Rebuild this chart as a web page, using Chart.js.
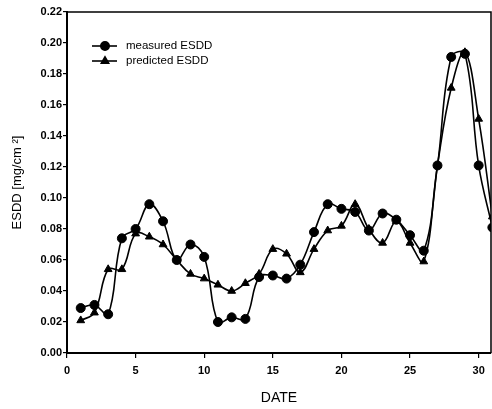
<!DOCTYPE html>
<html>
<head>
<meta charset="utf-8">
<script src="https://cdn.jsdelivr.net/npm/chart.js@4.4.1/dist/chart.umd.min.js"></script>
<style>
    html, body {
        margin: 0;
        padding: 0;
        background: #ffffff;
    }
    #chart-box {
        width: 492px;
        height: 409px;
        position: relative;
    }
</style>
</head>
<body>
<div id="chart-box">
    <canvas id="esdd-chart"></canvas>
</div>
<script>
// Day of the month
const days = [1, 2, 3, 4, 5, 6, 7, 8, 9, 10, 11, 12, 13, 14, 15, 16, 17, 18, 19, 20, 21, 22, 23, 24, 25, 26, 27, 28, 29, 30, 31];

// ESDD values in mg/cm2
const measuredEsdd = [0.029, 0.031, 0.025, 0.074, 0.080, 0.096, 0.085, 0.060, 0.070, 0.062, 0.020, 0.023, 0.022, 0.049, 0.050, 0.048, 0.057, 0.078, 0.096, 0.093, 0.091, 0.079, 0.090, 0.086, 0.076, 0.066, 0.121, 0.191, 0.193, 0.121, 0.081];
const predictedEsdd = [0.021, 0.026, 0.054, 0.054, 0.077, 0.075, 0.070, 0.060, 0.051, 0.048, 0.044, 0.040, 0.045, 0.051, 0.067, 0.064, 0.052, 0.067, 0.079, 0.082, 0.096, 0.080, 0.071, 0.085, 0.071, 0.059, 0.121, 0.171, 0.194, 0.151, 0.088];

const xTicks = [0, 5, 10, 15, 20, 25, 30];
const seriesNames = ["measured ESDD", "predicted ESDD"];

const toPoints = (values) => values.map((v, i) => ({ x: days[i], y: v }));

// Box around the plot (top and right edges)
const frameBox = {
    id: "frameBox",
    afterDatasetsDraw(chart) {
        const { ctx, chartArea } = chart;
        ctx.save();
        ctx.strokeStyle = "#000";
        ctx.lineWidth = 1.5;
        ctx.beginPath();
        ctx.moveTo(chartArea.left, chartArea.top);
        ctx.lineTo(chartArea.right, chartArea.top);
        ctx.lineTo(chartArea.right, chartArea.bottom);
        ctx.stroke();
        ctx.restore();
    },
};

// Legend drawn inside the plot, top left
const innerLegend = {
    id: "innerLegend",
    afterDraw(chart) {
        const { ctx } = chart;
        ctx.save();
        ctx.font = "11.5px 'Liberation Sans', Arial, sans-serif";
        ctx.textBaseline = "middle";
        ctx.fillStyle = "#000";
        chart.data.datasets.forEach((ds, i) => {
            const y = 46 + i * 15;
            ctx.strokeStyle = "#000";
            ctx.lineWidth = 1.6;
            ctx.beginPath();
            ctx.moveTo(92, y);
            ctx.lineTo(117, y);
            ctx.stroke();
            Chart.helpers.drawPoint(ctx, {
                pointStyle: ds.pointStyle,
                radius: 4.2,
                borderWidth: 1,
            }, 105, y);
            ctx.fillText(ds.label, 126, y);
        });
        ctx.restore();
    },
};

const canvas = document.getElementById("esdd-chart");

const esddChart = new Chart(canvas, {
    type: "line",
    data: {
        datasets: [
            {
                label: seriesNames[0],
                data: toPoints(measuredEsdd),
                borderColor: "#000",
                backgroundColor: "#000",
                borderWidth: 1.6,
                pointStyle: "circle",
                pointRadius: 4.5,
                pointBorderWidth: 1,
                tension: 0.4,
            },
            {
                label: seriesNames[1],
                data: toPoints(predictedEsdd),
                borderColor: "#000",
                backgroundColor: "#000",
                borderWidth: 1.6,
                pointStyle: "triangle",
                pointRadius: 4.5,
                pointBorderWidth: 1,
                tension: 0.4,
            },
        ],
    },
    options: {
        responsive: true,
        maintainAspectRatio: false,
        animation: false,
        layout: {
            autoPadding: false,
            padding: { top: 12, right: 1, left: 0, bottom: 0 },
        },
        plugins: {
            legend: { display: false },
            tooltip: { enabled: false },
        },
        scales: {
            x: {
                type: "linear",
                min: 0,
                max: 30.9,
                afterBuildTicks: (scale) => {
                    scale.ticks = xTicks.map((v) => ({ value: v }));
                },
                afterFit: (scale) => {
                    scale.height = 56;
                },
                ticks: {
                    color: "#000",
                    padding: 6,
                    maxRotation: 0,
                    font: { family: "'Liberation Sans', Arial, sans-serif", size: 11, weight: "bold" },
                },
                grid: {
                    drawOnChartArea: false,
                    drawTicks: true,
                    tickLength: 5,
                    color: "#000",
                    lineWidth: 1.2,
                },
                border: { color: "#000", width: 2 },
                title: {
                    display: true,
                    text: "DATE",
                    color: "#000",
                    padding: { top: 0, bottom: 2 },
                    font: { family: "'Liberation Sans', Arial, sans-serif", size: 14 },
                },
            },
            y: {
                min: 0,
                max: 0.22,
                afterFit: (scale) => {
                    scale.width = 67;
                },
                ticks: {
                    stepSize: 0.02,
                    color: "#000",
                    padding: 1,
                    callback: (v) => v.toFixed(2),
                    font: { family: "'Liberation Sans', Arial, sans-serif", size: 11, weight: "bold" },
                },
                grid: {
                    drawOnChartArea: false,
                    drawTicks: true,
                    tickLength: 4,
                    color: "#000",
                    lineWidth: 1.2,
                },
                border: { color: "#000", width: 2 },
                title: {
                    display: true,
                    text: "ESDD [mg/cm ²]",
                    color: "#000",
                    padding: { top: 10, bottom: 0 },
                    font: { family: "'Liberation Sans', Arial, sans-serif", size: 13 },
                },
            },
        },
    },
    plugins: [frameBox, innerLegend],
});

esddChart.update();
</script>
</body>
</html>
